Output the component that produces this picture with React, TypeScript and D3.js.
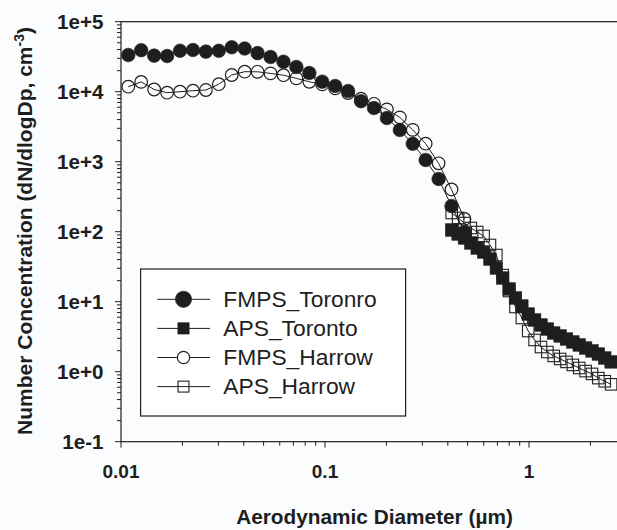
import React, { useEffect, useRef } from 'react';
import * as d3 from 'd3';

// particle diameters (um) and number concentrations
const fmpsDiameter = [
  0.01086, 0.01256, 0.01454, 0.01683, 0.01947, 0.02253, 0.02607, 0.03016, 0.0349,
  0.04039, 0.04673, 0.05407, 0.06257, 0.0724, 0.08378, 0.09694, 0.1122, 0.1298,
  0.1502, 0.1738, 0.2011, 0.2327, 0.2692, 0.3115, 0.3605, 0.4171, 0.4827,
];
const fmpsToronto = [
  33440, 39160, 32790, 32360, 38520, 39420, 37400, 38400, 43090, 41420, 35600,
  31310, 26830, 22530, 18500, 13900, 12060, 10230, 7317, 5850, 4210, 2838, 1802,
  1058, 566, 233, 99,
];
const fmpsHarrow = [
  11790, 13800, 10750, 9676, 10000, 10330, 10570, 12800, 17320, 19310, 19250,
  18260, 17210, 15490, 13850, 12720, 11150, 9580, 7940, 6716, 5587, 4295, 2847,
  1808, 949, 401, 152,
];
const apsDiameter = [
  0.418, 0.4492, 0.4827, 0.5187, 0.5574, 0.599, 0.6437, 0.6917, 0.7433, 0.7988,
  0.8584, 0.9225, 0.9913, 1.0653, 1.1448, 1.2302, 1.322, 1.4207, 1.5267, 1.6406,
  1.763, 1.8946, 2.0359, 2.1878, 2.3511, 2.5265,
];
const apsToronto = [
  105.8, 92.7, 81.3, 69.0, 58.5, 51.3, 40.7, 30.3, 21.8, 15.2, 11.3, 8.68, 6.67,
  5.48, 4.65, 4.07, 3.57, 3.24, 2.93, 2.66, 2.41, 2.18, 1.98, 1.79, 1.57, 1.38,
];
const apsHarrow = [
  185, 157, 133, 113, 99, 86.9, 64.6, 46.4, 24.0, 14.2, 8.4, 5.85, 3.81, 2.84,
  2.25, 1.91, 1.68, 1.52, 1.38, 1.25, 1.13, 1.02, 0.93, 0.81, 0.73, 0.66,
];

const seriesNames = ['FMPS_Toronro', 'APS_Toronto', 'FMPS_Harrow', 'APS_Harrow'];
const xTickValues = [0.01, 0.1, 1];
const xTickLabels = ['0.01', '0.1', '1'];
const yTickValues = [0.1, 1, 10, 100, 1000, 10000, 100000];
const yTickLabels = ['1e-1', '1e+0', '1e+1', '1e+2', '1e+3', '1e+4', '1e+5'];

const W = 617, H = 530;
const FONT = '"Liberation Sans", Arial, sans-serif';
const INK = '#1e1e1e';

const App = () => {
  const ref = useRef<SVGSVGElement>(null);

  useEffect(() => {
    const svg = d3.select(ref.current);
    svg.selectAll('*').remove();

    const x = d3.scaleLog().domain([0.01, 3]).range([121, 121 + 204 * Math.log10(300)]);
    const y = d3.scaleLog().domain([0.1, 1e5]).range([441.7, 21.7]);
    const [x0, x1] = x.range();
    const [y0, y1] = y.range();

    svg.append('rect').attr('width', W).attr('height', H).attr('fill', '#fbfcfd');

    // frame
    svg.append('rect')
      .attr('x', x0).attr('y', y1).attr('width', x1 - x0).attr('height', y0 - y1)
      .attr('fill', 'none').attr('stroke', INK).attr('stroke-width', 1.2);

    // x ticks
    const xt = svg.append('g');
    x.ticks().filter(t => t <= 2.5).forEach(t => {
      const major = xTickValues.some(v => Math.abs(v - t) / v < 1e-6);
      xt.append('line')
        .attr('x1', x(t)).attr('x2', x(t))
        .attr('y1', y0).attr('y2', y0 + (major ? 6 : 4))
        .attr('stroke', INK).attr('stroke-width', 1);
    });
    xTickValues.forEach((t, i) => {
      xt.append('text')
        .attr('x', x(t)).attr('y', 478)
        .attr('text-anchor', 'middle')
        .attr('font-family', FONT).attr('font-weight', 'bold').attr('font-size', 19)
        .attr('fill', INK)
        .text(xTickLabels[i]);
    });

    // y ticks
    const yt = svg.append('g');
    y.ticks().forEach(t => {
      const major = yTickValues.some(v => Math.abs(v - t) / v < 1e-6);
      yt.append('line')
        .attr('x1', x0 - (major ? 6 : 4)).attr('x2', x0)
        .attr('y1', y(t)).attr('y2', y(t))
        .attr('stroke', INK).attr('stroke-width', 1);
    });
    yTickValues.forEach((t, i) => {
      yt.append('text')
        .attr('x', 103.5).attr('y', y(t) + 7.2)
        .attr('text-anchor', 'end')
        .attr('font-family', FONT).attr('font-weight', 'bold').attr('font-size', 20.6)
        .attr('fill', INK)
        .text(yTickLabels[i]);
    });

    // axis titles
    svg.append('text')
      .attr('x', 374.5).attr('y', 524)
      .attr('text-anchor', 'middle')
      .attr('font-family', FONT).attr('font-weight', 'bold').attr('font-size', 20.8)
      .attr('fill', INK)
      .text('Aerodynamic Diameter (\u00b5m)');

    const yTitle = svg.append('text')
      .attr('transform', 'translate(32,231) rotate(-90)')
      .attr('text-anchor', 'middle')
      .attr('font-family', FONT).attr('font-weight', 'bold').attr('font-size', 21)
      .attr('fill', INK);
    yTitle.append('tspan').text('Number Concentration (dN/dlogDp, cm');
    yTitle.append('tspan').attr('dy', -8).attr('font-size', 14).text('-3');
    yTitle.append('tspan').attr('dy', 8).text(')');

    // series
    const line = d3.line<[number, number]>().x(d => x(d[0])).y(d => y(d[1]));
    const pts = (xs: number[], ys: number[]) => xs.map((d, i) => [d, ys[i]] as [number, number]);
    const series = [
      { data: pts(fmpsDiameter, fmpsToronto), shape: 'circle', filled: true },
      { data: pts(apsDiameter, apsToronto), shape: 'square', filled: true },
      { data: pts(fmpsDiameter, fmpsHarrow), shape: 'circle', filled: false },
      { data: pts(apsDiameter, apsHarrow), shape: 'square', filled: false },
    ];

    const drawMarker = (g: any, cx: number, cy: number, shape: string, filled: boolean, big: number, hollow: string) => {
      if (shape === 'circle') {
        const r = filled ? 6.8 * big : 6.3 * big;
        g.append('circle').attr('cx', cx).attr('cy', cy).attr('r', r)
          .attr('fill', filled ? INK : hollow)
          .attr('stroke', INK).attr('stroke-width', filled ? 0.6 : 1.2);
      } else {
        const s = filled ? 12.5 * big : 11.5 * big;
        g.append('rect').attr('x', cx - s / 2).attr('y', cy - s / 2).attr('width', s).attr('height', s)
          .attr('fill', filled ? INK : 'none')
          .attr('stroke', INK).attr('stroke-width', filled ? 0.6 : 1.1);
      }
    };

    const plot = svg.append('g');
    series.forEach(s => {
      plot.append('path').attr('d', line(s.data))
        .attr('fill', 'none').attr('stroke', INK).attr('stroke-width', 1);
      s.data.forEach(d => drawMarker(plot, x(d[0]), y(d[1]), s.shape, s.filled, 1, 'none'));
    });

    // legend
    const lg = svg.append('g');
    lg.append('rect')
      .attr('x', 140.6).attr('y', 269).attr('width', 265).attr('height', 147)
      .attr('fill', '#fff').attr('stroke', INK).attr('stroke-width', 1.2);
    series.forEach((s, i) => {
      const ry = 299.3 + i * 29.1;
      lg.append('line').attr('x1', 157.3).attr('x2', 210).attr('y1', ry).attr('y2', ry)
        .attr('stroke', INK).attr('stroke-width', 1);
      const scale = s.shape === 'circle' ? (s.filled ? 1.2 : 0.97) : (s.filled ? 0.9 : 0.95);
      drawMarker(lg, 183.5, ry, s.shape, s.filled, scale, '#fff');
      lg.append('text')
        .attr('x', 223.3).attr('y', ry + 7.8)
        .attr('font-family', FONT).attr('font-size', 22.8)
        .attr('fill', INK)
        .text(seriesNames[i]);
    });
  }, []);

  return <svg ref={ref} width={W} height={H} style={{ position: 'absolute', left: 0, top: 0 }} />;
};

export default App;
